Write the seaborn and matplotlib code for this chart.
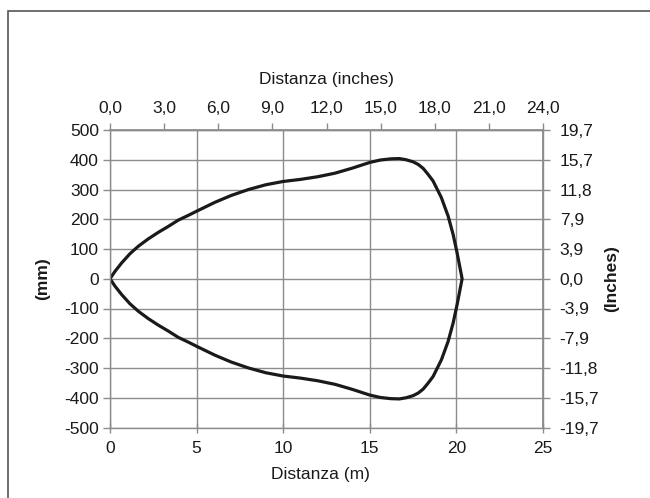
import numpy as np
import pandas as pd
import seaborn as sns
import matplotlib.pyplot as plt
from matplotlib.patches import Rectangle
from matplotlib.ticker import FixedLocator, FuncFormatter

# Upper half of the detection field (distance in m, half width in mm)
distanza_m = [0, 0.29, 0.67, 1.15, 1.63, 2.21, 2.79, 3.37, 3.94, 4.52, 5.0,
              6.06, 7.0, 8.0, 9.0, 10, 11, 12, 13, 14, 15, 15.6, 16.2, 16.7,
              17.1, 17.5, 17.8, 18.08, 18.35, 18.65, 19.13, 19.52, 19.81,
              20.04, 20.23, 20.33]
larghezza_mm = [0, 25, 53, 84, 109, 134, 156, 176, 197, 213, 227,
                257, 280, 300, 316, 327, 334, 343, 355, 372, 391, 399, 403, 404,
                400, 393, 384, 371, 352, 329, 273, 211, 149,
                87, 30, 0]

x_ticks_m = [0, 5, 10, 15, 20, 25]
y_ticks_mm = [-500, -400, -300, -200, -100, 0, 100, 200, 300, 400, 500]
top_ticks = [0, 3, 6, 9, 12, 15, 18, 21, 24]

GRIGIO = "#8c8c8c"
TESTO = "#1a1a1a"
FS = 12.5

# closed outline: upper half out, lower half back
df = pd.DataFrame({
    "x": distanza_m + distanza_m[::-1],
    "y": larghezza_mm + [-v for v in larghezza_mm[::-1]],
})

sns.set_theme(style="white")
plt.rcParams["font.family"] = ["Liberation Sans", "DejaVu Sans"]
plt.rcParams["axes.unicode_minus"] = False

fig = plt.figure(figsize=(6.5, 4.98), dpi=100)
ax = fig.add_axes([110 / 650, 1 - 427.5 / 498, 433 / 650, 297.5 / 498])

sns.lineplot(data=df, x="x", y="y", sort=False, estimator=None,
             color=TESTO, linewidth=2.3, ax=ax)
ax.lines[0].set_solid_joinstyle("round")

ax.set_xlim(0, 25)
ax.set_ylim(-500, 500)
ax.set_xticks(x_ticks_m)
ax.set_yticks(y_ticks_mm)
ax.grid(True, color=GRIGIO, linewidth=1.0)
ax.set_axisbelow(True)
for s in ax.spines.values():
    s.set_color(GRIGIO)
    s.set_linewidth(1.0)

ax.tick_params(axis="y", left=True, direction="out", length=5, width=1,
               color=GRIGIO, pad=3, labelsize=FS, labelcolor=TESTO)
ax.tick_params(axis="x", bottom=True, direction="inout", length=7, width=1,
               color=GRIGIO, pad=6, labelsize=FS, labelcolor=TESTO)

ax.set_xlabel("Distanza (m)", fontsize=FS, color=TESTO)
ax.xaxis.set_label_coords(0.485, -0.133)
ax.set_ylabel("(mm)", fontsize=FS, fontweight="bold", color=TESTO)
ax.yaxis.set_label_coords(-0.139, 0.5)

# top axis: 0..24 over the same width
top = ax.secondary_xaxis("top", functions=(lambda x: x * 24 / 25,
                                           lambda x: x * 25 / 24))
top.xaxis.set_major_locator(FixedLocator(top_ticks))
top.xaxis.set_major_formatter(FuncFormatter(lambda v, p: f"{v:.1f}".replace(".", ",")))
top.tick_params(direction="out", length=5, width=1, color=GRIGIO, pad=5,
                labelsize=FS, labelcolor=TESTO)
top.spines["top"].set_color(GRIGIO)
top.set_xlabel("Distanza (inches)", fontsize=FS, color=TESTO, labelpad=12)

# right axis: mm -> inches
right = ax.secondary_yaxis("right", functions=(lambda y: y / 25.4,
                                               lambda y: y * 25.4))
right.yaxis.set_major_locator(FixedLocator([v / 25.4 for v in y_ticks_mm]))
right.yaxis.set_major_formatter(
    FuncFormatter(lambda v, p: "0,0" if abs(v) < 0.05
                  else f"{v:.1f}".replace(".", ",")))
right.tick_params(direction="out", length=5, width=1, color=GRIGIO, pad=7,
                  labelsize=FS, labelcolor=TESTO)
right.spines["right"].set_color(GRIGIO)
fig.text(612 / 650, 1 - 279 / 498, "(Inches)", rotation=90, ha="center",
         va="center", fontsize=FS, fontweight="bold", color=TESTO)

# outer frame (only left and top edges fall inside the image)
fig.add_artist(Rectangle((8 / 650, -0.2), 1.2, 1.2 - 11 / 498,
                         transform=fig.transFigure, fill=False,
                         edgecolor="#555555", linewidth=1.2))

fig.savefig("out.png", dpi=100)
